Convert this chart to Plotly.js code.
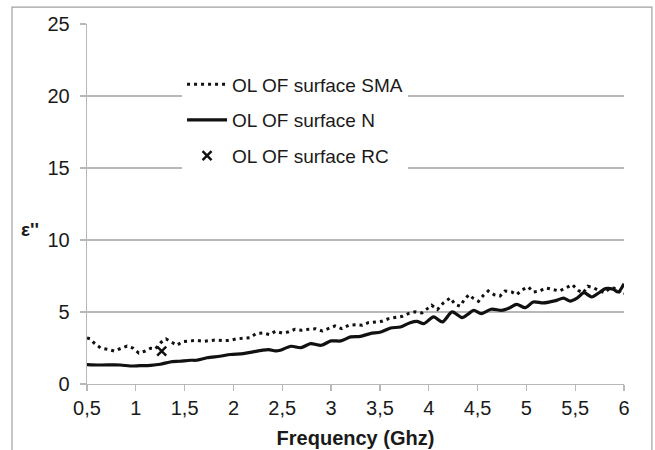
<!DOCTYPE html>
<html>
<head>
<meta charset="utf-8">
<script src="https://cdn.plot.ly/plotly-3.0.1.min.js"></script>
<style>html,body{margin:0;padding:0;background:#fff;}#chart{width:655px;height:450px;}</style>
</head>
<body>
<div id="chart"></div>
<script>
// Frequency (GHz) and ε'' for "OL OF surface SMA" (dotted)
var smaFreq = [0.50,0.53,0.58,0.64,0.71,0.78,0.85,0.91,0.97,1.03,1.09,1.15,1.20,1.26,1.31,1.37,1.42,1.48,1.55,1.62,1.69,1.75,1.82,1.89,1.96,2.03,2.10,2.17,2.23,2.30,2.37,2.43,2.50,2.56,2.63,2.70,2.77,2.84,2.91,2.97,3.04,3.11,3.18,3.25,3.32,3.38,3.45,3.52,3.59,3.66,3.73,3.79,3.86,3.93,3.98,4.03,4.09,4.15,4.22,4.27,4.32,4.36,4.41,4.46,4.51,4.56,4.61,4.67,4.73,4.78,4.85,4.90,4.96,5.02,5.07,5.13,5.20,5.27,5.34,5.41,5.47,5.53,5.58,5.63,5.69,5.75,5.80,5.86,5.93,5.98,6.00];
var smaEps = [3.20,3.14,2.80,2.50,2.41,2.29,2.48,2.64,2.50,2.15,2.27,2.48,2.43,2.90,3.13,2.90,2.69,2.94,2.99,3.03,2.96,2.99,3.06,3.01,3.03,3.13,3.20,3.22,3.50,3.54,3.43,3.66,3.54,3.61,3.80,3.73,3.80,3.84,3.68,3.84,4.03,3.84,4.08,4.12,4.08,4.26,4.31,4.35,4.54,4.61,4.70,4.89,5.01,4.93,5.17,5.47,5.17,5.63,5.98,5.53,5.40,5.81,6.20,5.93,5.74,6.16,6.46,6.20,6.11,6.46,6.39,6.20,6.55,6.74,6.39,6.44,6.67,6.58,6.46,6.69,6.90,6.51,6.32,6.79,6.67,6.46,6.34,6.69,6.62,6.20,6.25];

// "OL OF surface N" (solid)
var nFreq = [0.50,0.63,0.84,0.94,1.04,1.15,1.25,1.35,1.45,1.56,1.62,1.73,1.86,1.97,2.10,2.20,2.29,2.36,2.43,2.48,2.59,2.69,2.79,2.90,3.00,3.10,3.20,3.30,3.40,3.51,3.61,3.71,3.81,3.88,3.95,4.05,4.14,4.24,4.34,4.41,4.46,4.54,4.64,4.75,4.83,4.90,4.99,5.07,5.17,5.24,5.31,5.38,5.45,5.52,5.59,5.67,5.74,5.81,5.89,5.94,6.00];
var nEps = [1.35,1.32,1.32,1.25,1.27,1.30,1.37,1.53,1.58,1.65,1.65,1.82,1.93,2.05,2.11,2.23,2.34,2.39,2.30,2.34,2.62,2.52,2.80,2.69,2.99,2.99,3.27,3.31,3.50,3.61,3.89,3.96,4.26,4.35,4.19,4.66,4.31,5.01,4.61,4.89,5.12,4.89,5.19,5.12,5.30,5.53,5.30,5.70,5.63,5.70,5.81,5.97,5.76,5.97,6.34,6.04,6.32,6.62,6.58,6.39,6.97];

// "OL OF surface RC" (single point)
var rcFreq = [1.265];
var rcEps = [2.29];

// Axis ticks
var xTickVals = [0.5,1,1.5,2,2.5,3,3.5,4,4.5,5,5.5,6];
var xTickText = ["0,5","1","1,5","2","2,5","3","3,5","4","4,5","5","5,5","6"];
var yTickVals = [0,5,10,15,20,25];
var yTickText = ["0","5","10","15","20","25"];

var FONT = "Liberation Sans, Arial, sans-serif";
var GRID = "#b8b8b8";

var traces = [
  {x: smaFreq, y: smaEps, type: "scatter", mode: "lines", name: "OL OF surface SMA",
   legendgroup: "a", line: {color: "#111", width: 3, dash: "3px,4px"}},
  {x: nFreq, y: nEps, type: "scatter", mode: "lines", name: "OL OF surface N",
   legendgroup: "b", line: {color: "#111", width: 3.2, shape: "spline", smoothing: 0.8}},
  {x: rcFreq, y: rcEps, type: "scatter", mode: "markers", name: "OL OF surface RC",
   legendgroup: "c", marker: {symbol: "x-thin-open", size: 9, color: "#111", line: {color: "#111", width: 2.5}}}
];

var layout = {
  width: 655, height: 450,
  margin: {l: 87, r: 31, t: 24, b: 66},
  paper_bgcolor: "#fff", plot_bgcolor: "#fff",
  font: {family: FONT, color: "#1a1a1a", size: 20},
  showlegend: true,
  legend: {x: 0.177, y: 0.885, xanchor: "left", yanchor: "top",
    bgcolor: "#fff", borderwidth: 0, font: {family: FONT, size: 19, color: "#1a1a1a"},
    tracegroupgap: 8, itemwidth: 40, traceorder: "grouped"},
  xaxis: {range: [0.5, 6], tickmode: "array", tickvals: xTickVals, ticktext: xTickText,
    showgrid: false, zeroline: false, showline: true, linecolor: GRID, linewidth: 1.3,
    ticks: "outside", ticklen: 6, tickcolor: GRID, tickwidth: 1.3,
    tickfont: {family: FONT, size: 20, color: "#1a1a1a"},
    title: {text: "<b>Frequency (Ghz)</b>", standoff: 12, font: {family: FONT, size: 20, color: "#1a1a1a"}}},
  yaxis: {range: [0, 25], tickmode: "array", tickvals: yTickVals, ticktext: yTickText,
    showgrid: true, gridcolor: GRID, gridwidth: 1.3, zeroline: false,
    showline: true, linecolor: GRID, linewidth: 1.3,
    ticks: "outside", ticklen: 6, tickcolor: GRID, tickwidth: 1.3, ticklabelstandoff: 6,
    tickfont: {family: FONT, size: 20, color: "#1a1a1a"}},
  annotations: [
    {text: "<b>ε''</b>", xref: "paper", yref: "paper", x: -0.106, y: 0.428,
     xanchor: "center", yanchor: "middle", showarrow: false,
     font: {family: FONT, size: 19, color: "#1a1a1a"}}
  ],
  shapes: [
    {type: "rect", xref: "paper", yref: "paper", x0: -0.1397, x1: 1.052, y0: -0.2, y1: 1.047,
     line: {color: "#a0a0a0", width: 1.2}, fillcolor: "rgba(0,0,0,0)", layer: "below"}
  ]
};

Plotly.newPlot("chart", traces, layout, {displayModeBar: false, staticPlot: true});
</script>
</body>
</html>
